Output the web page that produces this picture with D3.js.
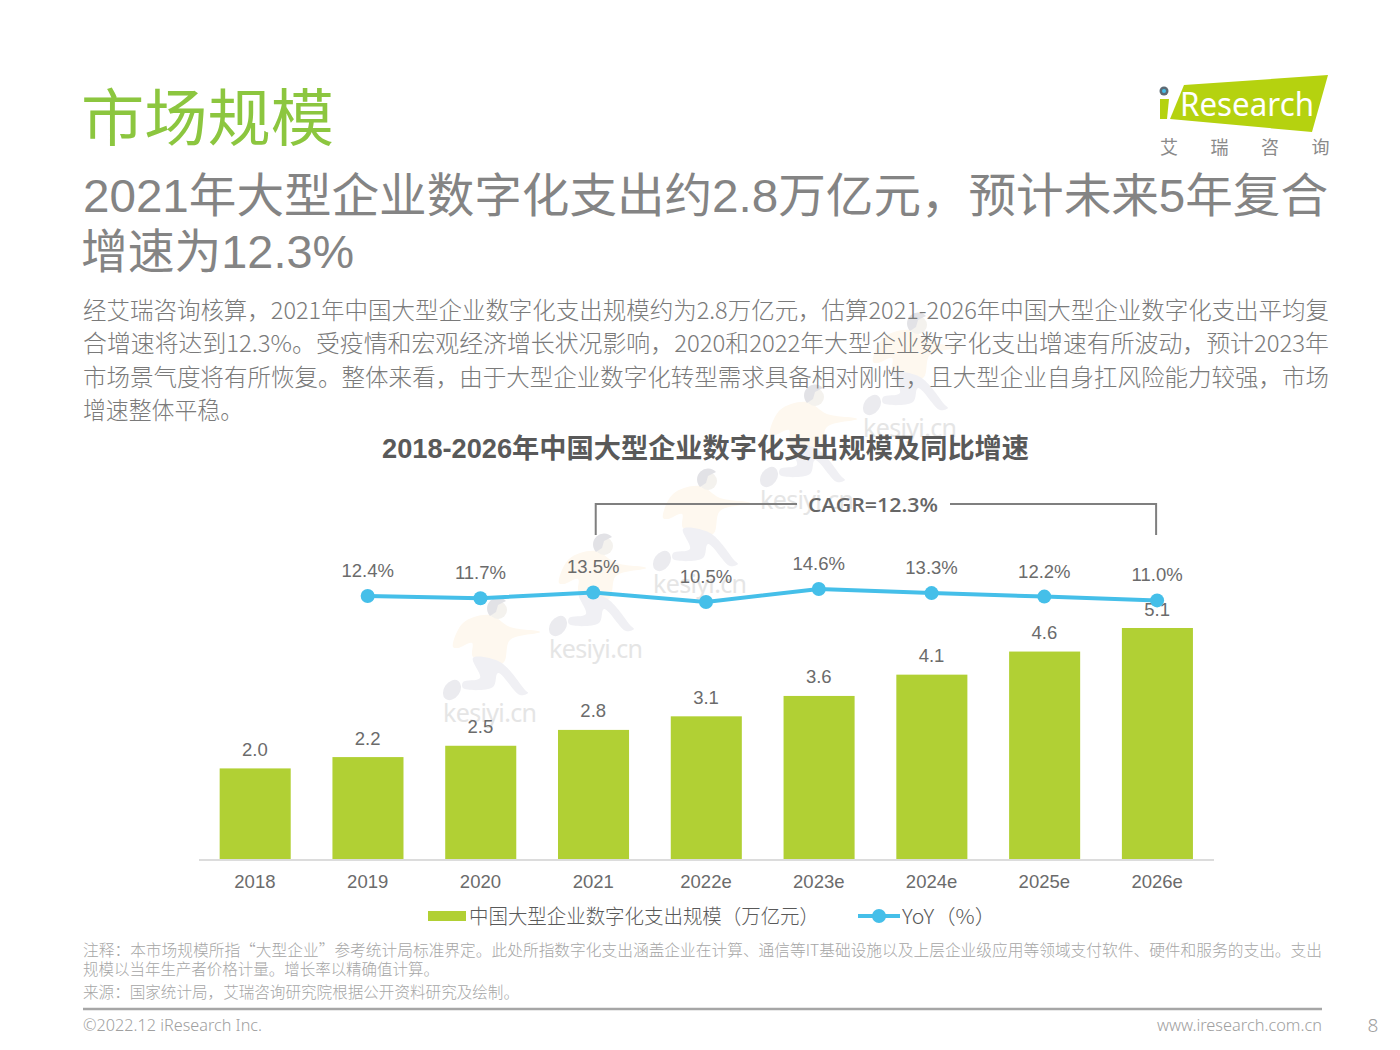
<!DOCTYPE html>
<html><head><meta charset="utf-8">
<script src="https://cdn.jsdelivr.net/npm/d3@7/dist/d3.min.js"></script>
<style>
html,body{margin:0;padding:0;background:#fff}
svg{display:block}
text{font-family:"Liberation Sans","Noto Sans CJK SC",sans-serif}
</style></head><body><div id="c"></div>
<script>
const years = ["2018","2019","2020","2021","2022e","2023e","2024e","2025e","2026e"];
const marketSize = [2.0,2.25,2.5,2.85,3.15,3.6,4.07,4.58,5.1];
const marketLabels = ["2.0","2.2","2.5","2.8","3.1","3.6","4.1","4.6","5.1"];
const yoyYears = ["2019","2020","2021","2022e","2023e","2024e","2025e","2026e"];
const yoyValues = [12.4,11.7,13.5,10.5,14.6,13.3,12.2,11.0];
const bodyLines = [
 "经艾瑞咨询核算，2021年中国大型企业数字化支出规模约为2.8万亿元，估算2021-2026年中国大型企业数字化支出平均复",
 "合增速将达到12.3%。受疫情和宏观经济增长状况影响，2020和2022年大型企业数字化支出增速有所波动，预计2023年",
 "市场景气度将有所恢复。整体来看，由于大型企业数字化转型需求具备相对刚性，且大型企业自身扛风险能力较强，市场",
 "增速整体平稳。"];
const noteLines = [
 "注释：本市场规模所指“大型企业”参考统计局标准界定。此处所指数字化支出涵盖企业在计算、通信等IT基础设施以及上层企业级应用等领域支付软件、硬件和服务的支出。支出",
 "规模以当年生产者价格计量。增长率以精确值计算。",
 "来源：国家统计局，艾瑞咨询研究院根据公开资料研究及绘制。"];
const watermarkAnchors = [[443,722],[549,658],[653,593],[760,509],[863,437]];
const logoChars = ["艾","瑞","咨","询"];

const svg = d3.select("#c").append("svg").attr("width",1400).attr("height",1050);
const LIGHT = 300;
const CJK = '"Noto Sans CJK SC",sans-serif';
const VALUE_FILL = "#6b6b6b";
function txt(s,x,y,size,fill,opts={}){
  const t = svg.append("text").attr("x",x).attr("y",y).attr("font-size",size).attr("fill",fill)
    .attr("font-weight",opts.weight||400).attr("text-anchor",opts.anchor||"start").text(s);
  if(opts.len){t.attr("textLength",opts.len).attr("lengthAdjust","spacingAndGlyphs");}
  if(opts.family){t.style("font-family",opts.family);}
  return t;
}

/* watermark */
watermarkAnchors.forEach(([lx,by])=>{
  const g = svg.append("g").attr("transform",`translate(${lx+47},${by})`);
  const line = d3.line().curve(d3.curveCatmullRomClosed.alpha(.5));
  g.append("path").attr("d",line([[-37,-75],[-27,-99],[0,-107],[20,-95],[50,-90],[20,-82],[13,-59],[-17,-65],[-18,-79],[-32,-74]])).attr("fill","#fef8ef");
  g.append("path").attr("d",line([[-17,-64],[10,-60],[35,-32],[38,-29],[30,-27],[8,-49],[3,-35],[-27,-34],[-27,-40],[-10,-44]])).attr("fill","#f0f0f4");
  g.append("ellipse").attr("cx",-38).attr("cy",-32).attr("rx",8).attr("ry",11).attr("transform","rotate(35 -38 -32)").attr("fill","#ebebef");
  g.append("circle").attr("cx",8).attr("cy",-112).attr("r",9).attr("fill","#f4f2ee");
  g.append("path").attr("d","M16,-121A10,10 0 0 0 0,-106L6,-110L8,-117Z").attr("fill","#e2e2e6");
  g.append("text").attr("x",0).attr("y",0).attr("text-anchor","middle").attr("font-size",25).attr("fill","#e5e5e5")
    .attr("textLength",94).style("font-family","'Noto Sans',sans-serif").text("kesiyi.cn");
});

/* header */
txt("市场规模",81,141,62,"#8cc63f",{len:253,weight:400});
txt("2021年大型企业数字化支出约2.8万亿元，预计未来5年复合",83,212,46.5,"#848484",{len:1245,weight:400});
txt("增速为12.3%",81,268,46.5,"#848484",{len:273,weight:400});
bodyLines.forEach((l,i)=>txt(l,83,318.5+i*33.6,23.5,"#7a7a7a",{len:i<3?1246:160,weight:LIGHT,family:CJK}));

/* logo */
svg.append("polygon").attr("points","1184,85 1328,75 1312,132 1170,119").attr("fill","#b5d20f");
svg.append("polygon").attr("points","1160,99 1169,99 1167,119 1160,119").attr("fill","#b5d20f");
svg.append("circle").attr("cx",1164).attr("cy",91).attr("r",4.5).attr("fill","#5c6a74");
svg.append("circle").attr("cx",1164).attr("cy",91).attr("r",2).attr("fill","#45bfe9");
txt("Research",1180,116,33,"#fff",{len:134,weight:400,family:"'Noto Sans',sans-serif"});
logoChars.forEach((c,i)=>txt(c,1169+i*50.5,154,18,"#8a8a8a",{anchor:"middle",family:CJK}));

/* chart */
txt("2018-2026年中国大型企业数字化支出规模及同比增速",705.5,458,27,"#595959",{anchor:"middle",weight:700,len:647});

const x = d3.scaleBand().domain(years).range([198.5,1213.5]).paddingInner(0.37).paddingOuter(0.185);
const yBar = d3.scaleLinear().domain([0,5.1]).range([859,628]);
const yLine = d3.scaleLinear().domain([10.5,14.6]).range([602,589]);
const cx = d=>x(d)+x.bandwidth()/2;

svg.append("g").selectAll("rect").data(years).join("rect")
  .attr("x",d=>x(d)+0.3).attr("width",x.bandwidth())
  .attr("y",(d,i)=>yBar(marketSize[i])).attr("height",(d,i)=>yBar(0)-yBar(marketSize[i]))
  .attr("fill","#b1d034");
svg.append("g").selectAll("text").data(years).join("text")
  .attr("x",cx).attr("y",(d,i)=>yBar(marketSize[i])-12.5).attr("text-anchor","middle")
  .attr("font-size",18.5).attr("fill",VALUE_FILL)
  .text((d,i)=>marketLabels[i]);

const axis = svg.append("g").attr("transform","translate(0,859.5)")
  .call(d3.axisBottom(x).tickSize(0).tickPadding(15));
axis.select(".domain").attr("stroke","#d0d0d0").attr("stroke-width",1.5);
axis.selectAll("text").attr("font-size",18.5).attr("fill",VALUE_FILL)
  .style("font-family",'"Liberation Sans",sans-serif');

const lineGen = d3.line().x(d=>cx(d[0])).y(d=>yLine(d[1]));
const yoy = yoyYears.map((y,i)=>[y,yoyValues[i]]);
svg.append("path").attr("d",lineGen(yoy)).attr("fill","none").attr("stroke","#45bfe9").attr("stroke-width",4);
svg.append("g").selectAll("circle").data(yoy).join("circle")
  .attr("cx",d=>cx(d[0])).attr("cy",d=>yLine(d[1])).attr("r",7).attr("fill","#45bfe9");
svg.append("g").selectAll("text").data(yoy).join("text")
  .attr("x",d=>cx(d[0])).attr("y",d=>yLine(d[1])-19).attr("text-anchor","middle")
  .attr("font-size",18.5).attr("fill",VALUE_FILL)
  .text(d=>d[1].toFixed(1)+"%");

/* CAGR bracket */
const br = svg.append("g").attr("fill","none").attr("stroke","#7f7f7f").attr("stroke-width",2);
br.append("path").attr("d",`M${cx("2021")+2.5},535V504H797`);
br.append("path").attr("d",`M950,504H${cx("2026e")-1}V535`);
txt("CAGR=12.3%",873,512,20.5,"#666",{anchor:"middle",weight:600,len:130,family:"'Open Sans',sans-serif"});

/* legend */
svg.append("rect").attr("x",428).attr("y",911).attr("width",38).attr("height",10).attr("fill","#b1d034");
txt("中国大型企业数字化支出规模（万亿元）",469,924,20,"#595959",{len:350,weight:LIGHT,family:CJK});
svg.append("line").attr("x1",858).attr("x2",900).attr("y1",916).attr("y2",916).attr("stroke","#45bfe9").attr("stroke-width",4);
svg.append("circle").attr("cx",879).attr("cy",916).attr("r",7).attr("fill","#45bfe9");
txt("YoY（%）",902,924,20,"#595959",{len:94,weight:LIGHT,family:CJK});

/* footer */
[[956,1239],[975,356],[998,436]].forEach(([y,len],i)=>txt(noteLines[i],83,y,15.5,"#a6a6a6",{len,weight:LIGHT,family:CJK}));
svg.append("line").attr("x1",83).attr("x2",1322).attr("y1",1009).attr("y2",1009).attr("stroke","#a6a6a6").attr("stroke-width",2.5);
txt("©2022.12 iResearch Inc.",83,1031,16,"#a0a0a0",{len:179,weight:LIGHT,family:"'Noto Sans',sans-serif"});
txt("www.iresearch.com.cn",1157,1031,16,"#a0a0a0",{len:165,weight:LIGHT,family:"'Noto Sans',sans-serif"});
txt("8",1373,1032,19,"#a0a0a0",{anchor:"middle",weight:LIGHT,family:"'Noto Sans',sans-serif"});
</script></body></html>
